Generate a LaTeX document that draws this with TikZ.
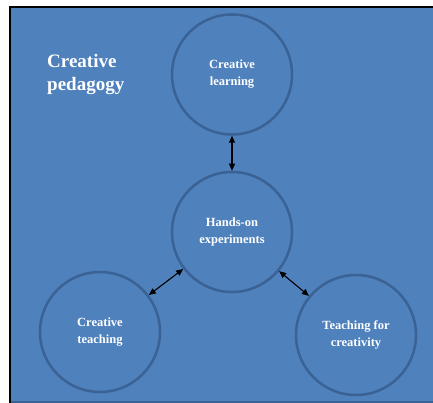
\documentclass[tikz,border=0pt]{standalone}
\usepackage{fontspec}
\setmainfont{Liberation Serif}
\usepackage{tikz}
\usetikzlibrary{shapes.geometric, arrows.meta}
\usetikzlibrary{positioning}
\definecolor{bgblue}{HTML}{4F81BD}
\definecolor{ringblue}{HTML}{3A6294}
\tikzstyle{idea} = [circle, minimum size=120pt, inner sep=0pt, line width=2.5pt, draw=ringblue, text=white, align=center, font=\fontsize{12.5}{17}\selectfont\bfseries]
\tikzstyle{heading} = [align=left, inner sep=0pt, text=white, font=\fontsize{19}{23}\selectfont\bfseries]
\tikzstyle{arrow} = [line width=1.1pt, {Triangle[length=7pt,width=6pt]}-{Triangle[length=7pt,width=6pt]}]

\begin{document}
\begin{tikzpicture}[x=1pt, y=-1pt]

        % Frame
        \useasboundingbox (0,0) rectangle (433,403);
        \fill [bgblue] (10,7) rectangle (433,403);
        \draw [line width=2.5pt, black] (10,403) -- (10,7) -- (433,7);
        \draw [line width=2pt, ringblue] (11,402) -- (433,402);

        % Nodes
        \node (title) [heading, anchor=west] at (47,75) {Creative\\pedagogy};
        \node (hands) [idea] at (232,232) {Hands-on\\experiments};
        \node (learning) [idea, above=35pt of hands] {Creative\\learning};
        \node (teaching) [idea] at (100,332) {Creative\\teaching};
        \node (creativity) [idea] at (356,335) {Teaching for\\creativity};

        % Arrows
        \draw [arrow] (learning) -- (hands);
        \draw [arrow] (teaching) -- (hands);
        \draw [arrow] (hands) -- (creativity);

    \end{tikzpicture}
\end{document}
